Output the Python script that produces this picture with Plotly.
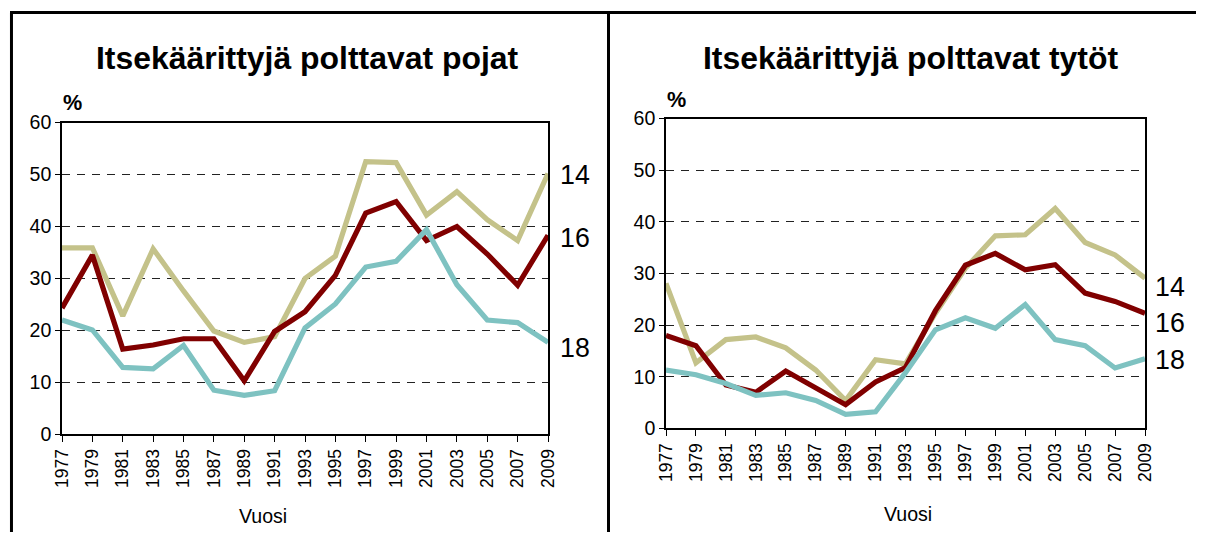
import plotly.graph_objects as go

W, H = 1206, 543
years = list(range(1977, 2010, 2))
year_labels = [str(y) for y in years]

boys_14 = [35.9, 35.9, 22.8, 35.7, 27.6, 19.9, 17.7, 18.8, 30.0, 34.3, 52.5, 52.3, 42.2, 46.7, 41.3, 37.3, 50.2]
boys_16 = [24.3, 34.5, 16.4, 17.2, 18.4, 18.4, 10.3, 19.8, 23.6, 30.6, 42.6, 44.8, 37.3, 40.0, 34.7, 28.7, 38.3]
boys_18 = [22.0, 20.1, 12.9, 12.6, 17.1, 8.5, 7.5, 8.4, 20.5, 25.1, 32.2, 33.3, 39.4, 28.8, 22.0, 21.5, 17.7]

girls_14 = [28.1, 12.7, 17.2, 17.7, 15.6, 11.3, 5.4, 13.3, 12.5, 22.3, 31.0, 37.3, 37.5, 42.6, 36.0, 33.6, 29.1]
girls_16 = [18.0, 16.0, 8.4, 7.0, 11.1, 7.9, 4.6, 9.0, 11.8, 22.8, 31.6, 33.9, 30.7, 31.7, 26.2, 24.6, 22.3]
girls_18 = [11.3, 10.4, 8.7, 6.4, 6.9, 5.4, 2.7, 3.2, 10.8, 19.1, 21.4, 19.4, 24.0, 17.2, 16.0, 11.7, 13.5]

series_names = ["14", "16", "18"]
colors = {"14": "#C4C28A", "16": "#800000", "18": "#7EC2C1"}

titles = ["Itsekäärittyjä polttavat pojat", "Itsekäärittyjä polttavat tytöt"]
x_title = "Vuosi"
y_unit = "%"

FONT = "Liberation Sans, Arial, sans-serif"
K = 1.03  # text scale


def px(x):
    v = (x - 10) / 1186.0
    return min(max(v, 0.0), 1.0)


def py(y):
    v = 1 - (y - 10) / 523.0
    return min(max(v, 0.0), 1.0)


fig = go.Figure()

panels = [
    dict(data=[boys_14, boys_16, boys_18], xa="x", ya="y",
         xdom=[px(62), px(548)], ydom=[py(435), py(122)]),
    dict(data=[girls_14, girls_16, girls_18], xa="x2", ya="y2",
         xdom=[px(666), px(1145)], ydom=[py(429), py(118)]),
]

for p in panels:
    for name, vals in zip(series_names, p["data"]):
        fig.add_trace(go.Scatter(
            x=years, y=vals, mode="lines", name=name,
            line=dict(color=colors[name], width=5.2),
            xaxis=p["xa"], yaxis=p["ya"], showlegend=False,
            hoverinfo="skip"))

axis_common_x = dict(
    range=[1977, 2009], tickmode="array", tickvals=years, ticktext=year_labels,
    tickangle=-90, ticks="outside", ticklen=6, tickcolor="black", tickwidth=1,
    showline=True, linecolor="black", linewidth=1.5, mirror=True,
    showgrid=False, zeroline=False,
    tickfont=dict(family=FONT, size=17 * K, color="black"),
    fixedrange=True,
)
axis_common_y = dict(
    range=[0, 60], dtick=10, ticks="outside", ticklen=5, tickcolor="black", tickwidth=1,
    showline=True, linecolor="black", linewidth=1.5, mirror=True,
    showgrid=True, gridcolor="#222222", gridwidth=1, griddash="8px,7px",
    zeroline=False,
    tickfont=dict(family=FONT, size=19 * K, color="black"),
    fixedrange=True,
)

fig.update_layout(
    width=W, height=H,
    margin=dict(l=0, r=0, t=0, b=0),
    paper_bgcolor="white", plot_bgcolor="white",
    xaxis=dict(domain=panels[0]["xdom"], anchor="y", **axis_common_x),
    yaxis=dict(domain=panels[0]["ydom"], anchor="x", **axis_common_y),
    xaxis2=dict(domain=panels[1]["xdom"], anchor="y2", **axis_common_x),
    yaxis2=dict(domain=panels[1]["ydom"], anchor="x2", **axis_common_y),
)

annotations = []
for t, cx in zip(titles, [307, 910]):
    annotations.append(dict(text="<b>%s</b>" % t, x=px(cx), y=py(57), xref="paper", yref="paper",
                            showarrow=False, xanchor="center", yanchor="middle",
                            font=dict(family=FONT, size=31 * K, color="black")))
for cx, cy in [(72, 102), (676, 99)]:
    annotations.append(dict(text="<b>%s</b>" % y_unit, x=px(cx), y=py(cy), xref="paper", yref="paper",
                            showarrow=False, xanchor="center", yanchor="middle",
                            font=dict(family=FONT, size=21 * K, color="black")))
for cx, cy in [(263, 517), (908, 515)]:
    annotations.append(dict(text=x_title, x=px(cx), y=py(cy), xref="paper", yref="paper",
                            showarrow=False, xanchor="center", yanchor="middle",
                            font=dict(family=FONT, size=19 * K, color="black")))
label_pos = [
    [(575, 175), (575, 238), (575, 348)],
    [(1170, 287), (1170, 323), (1170, 360)],
]
for pos in label_pos:
    for name, (cx, cy) in zip(series_names, pos):
        annotations.append(dict(text=name, x=px(cx), y=py(cy), xref="paper", yref="paper",
                                showarrow=False, xanchor="center", yanchor="middle",
                                font=dict(family=FONT, size=26 * K, color="black")))
fig.update_layout(annotations=annotations)

top_y = 1 - 1.5 / H
left_x = 1.5 / W
shapes = [
    dict(type="line", xref="paper", yref="paper", x0=0, x1=1, y0=top_y, y1=top_y,
         line=dict(color="black", width=3)),
    dict(type="line", xref="paper", yref="paper", x0=left_x, x1=left_x, y0=top_y, y1=0,
         line=dict(color="black", width=3)),
    dict(type="line", xref="paper", yref="paper", x0=px(608.5), x1=px(608.5), y0=top_y, y1=0,
         line=dict(color="black", width=3)),
]
fig.update_layout(shapes=shapes)

fig.write_html("out.html", config={"displayModeBar": False})

with open("out.html", "r", encoding="utf-8") as f:
    html = f.read()
html = html.replace("<head>", "<head><style>html,body{margin:0;padding:0;overflow:hidden;}</style>", 1)
with open("out.html", "w", encoding="utf-8") as f:
    f.write(html)
